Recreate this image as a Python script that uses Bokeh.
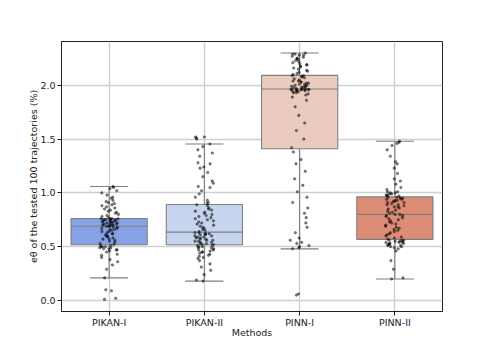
import numpy as np
from bokeh.plotting import figure
from bokeh.models import ColumnDataSource, Range1d, FixedTicker, CustomJSTickFormatter
from bokeh.transform import dodge, jitter
from bokeh.embed import file_html
from bokeh.resources import INLINE

methods = ["PIKAN-I", "PIKAN-II", "PINN-I", "PINN-II"]
box_colors = ["#86a2e6", "#c7d4ee", "#eacbbd", "#dd8c76"]

pikan_1 = [0.01, 0.02, 0.09, 0.10, 0.21, 0.29, 0.33, 0.36, 0.38, 0.40, 0.42, 0.43, 0.45,
           0.46, 0.47, 0.47, 0.48, 0.48, 0.49, 0.49, 0.50, 0.50, 0.50, 0.51, 0.51,
           0.52, 0.53, 0.54, 0.55, 0.56, 0.57, 0.57, 0.58, 0.59, 0.60, 0.60, 0.61, 0.62,
           0.62, 0.63, 0.64, 0.64, 0.65, 0.66, 0.66, 0.67, 0.67, 0.68, 0.68, 0.69,
           0.69, 0.69, 0.70, 0.70, 0.70, 0.71, 0.71, 0.71, 0.72, 0.72, 0.72, 0.73, 0.73,
           0.73, 0.74, 0.74, 0.74, 0.75, 0.75, 0.75, 0.75, 0.76, 0.76, 0.76, 0.76,
           0.77, 0.78, 0.79, 0.80, 0.81, 0.82, 0.83, 0.84, 0.85, 0.86, 0.87, 0.88, 0.89,
           0.90, 0.91, 0.92, 0.93, 0.95, 0.96, 0.98, 1.00, 1.02, 1.04, 1.05, 1.06]
pikan_2 = [0.18, 0.19, 0.24, 0.28, 0.31, 0.34, 0.37, 0.39, 0.40, 0.41, 0.42, 0.43, 0.44,
           0.45, 0.45, 0.46, 0.47, 0.47, 0.48, 0.49, 0.49, 0.50, 0.50, 0.51, 0.51,
           0.52, 0.52, 0.53, 0.53, 0.54, 0.54, 0.55, 0.55, 0.56, 0.56, 0.57, 0.57, 0.58,
           0.58, 0.59, 0.59, 0.60, 0.60, 0.61, 0.61, 0.62, 0.62, 0.62, 0.63, 0.63,
           0.64, 0.65, 0.66, 0.67, 0.68, 0.69, 0.70, 0.71, 0.72, 0.73, 0.74, 0.75, 0.76,
           0.77, 0.78, 0.79, 0.80, 0.81, 0.82, 0.83, 0.84, 0.85, 0.86, 0.88, 0.89,
           0.90, 0.91, 0.93, 0.96, 0.99, 1.02, 1.05, 1.06, 1.09, 1.11, 1.15, 1.19, 1.23,
           1.24, 1.27, 1.28, 1.34, 1.37, 1.40, 1.43, 1.455, 1.50, 1.51, 1.52, 1.52]
pinn_1 = [0.05, 0.06, 0.48, 0.49, 0.50, 0.51, 0.53, 0.54, 0.56, 0.58, 0.63, 0.68, 0.72,
          0.77, 0.81, 0.86, 0.91, 0.96, 1.01, 1.07, 1.13, 1.20, 1.27, 1.31, 1.38,
          1.42, 1.50, 1.58, 1.65, 1.72, 1.80, 1.86, 1.89, 1.91, 1.92, 1.93, 1.93, 1.94,
          1.94, 1.95, 1.95, 1.95, 1.96, 1.96, 1.96, 1.96, 1.96, 1.96, 1.96, 1.96,
          1.97, 1.97, 1.98, 1.98, 1.98, 1.99, 1.99, 1.99, 2.00, 2.00, 2.01, 2.01, 2.02,
          2.02, 2.03, 2.03, 2.04, 2.04, 2.05, 2.06, 2.07, 2.08, 2.08, 2.09, 2.09,
          2.10, 2.11, 2.12, 2.13, 2.14, 2.15, 2.16, 2.17, 2.18, 2.19, 2.19, 2.20, 2.21,
          2.22, 2.23, 2.24, 2.25, 2.25, 2.26, 2.27, 2.28, 2.28, 2.29, 2.29, 2.30]
pinn_2 = [0.20, 0.21, 0.29, 0.37, 0.46, 0.48, 0.49, 0.50, 0.50, 0.51, 0.51, 0.52, 0.52,
          0.53, 0.53, 0.53, 0.54, 0.54, 0.54, 0.55, 0.55, 0.55, 0.56, 0.56, 0.56,
          0.57, 0.58, 0.59, 0.60, 0.61, 0.62, 0.63, 0.64, 0.65, 0.66, 0.67, 0.68, 0.69,
          0.70, 0.71, 0.72, 0.73, 0.74, 0.75, 0.76, 0.77, 0.78, 0.79, 0.79, 0.80,
          0.80, 0.81, 0.82, 0.83, 0.84, 0.85, 0.86, 0.87, 0.87, 0.88, 0.89, 0.89, 0.90,
          0.91, 0.91, 0.92, 0.92, 0.93, 0.93, 0.94, 0.94, 0.95, 0.95, 0.96, 0.96,
          0.97, 0.97, 0.98, 0.98, 0.99, 0.99, 1.00, 1.00, 1.01, 1.01, 1.03, 1.05, 1.08,
          1.11, 1.13, 1.18, 1.23, 1.27, 1.29, 1.34, 1.40, 1.44, 1.46, 1.47, 1.48]
y_ticks = [0.0, 0.5, 1.0, 1.5, 2.0]

series = [pikan_1, pikan_2, pinn_1, pinn_2]

# box statistics (matplotlib-style)
q1s, meds, q3s, lows, highs = [], [], [], [], []
for vals in series:
    a = np.array(vals)
    q1, med, q3 = np.percentile(a, [25, 50, 75])
    iqr = q3 - q1
    hi = a[a <= q3 + 1.5 * iqr].max()
    lo = a[a >= q1 - 1.5 * iqr].min()
    q1s.append(q1); meds.append(med); q3s.append(q3); lows.append(lo); highs.append(hi)

box_src = ColumnDataSource(dict(m=methods, q1=q1s, med=meds, q3=q3s, lo=lows, hi=highs,
                                color=box_colors))
pts_m, pts_v = [], []
for m, vals in zip(methods, series):
    pts_m += [m] * len(vals)
    pts_v += list(vals)
pts_src = ColumnDataSource(dict(m=pts_m, v=pts_v))

FONT = "DejaVu Sans"
GRAY = "#7f7f7f"

p = figure(x_range=methods, y_range=Range1d(-0.1025, 2.407), width=491, height=350,
           output_backend="svg", toolbar_location=None,
           min_border_left=61, min_border_right=49, min_border_top=41, min_border_bottom=39)
p.background_fill_color = "white"
p.border_fill_color = "white"
p.outline_line_color = "#222222"
p.outline_line_width = 1

p.xgrid.grid_line_color = "#cfcfcf"
p.ygrid.grid_line_color = "#cfcfcf"
p.xgrid.grid_line_width = 1.4
p.ygrid.grid_line_width = 1.4

# whiskers
p.segment(x0="m", y0="q3", x1="m", y1="hi", source=box_src, line_color=GRAY, line_width=1.1)
p.segment(x0="m", y0="q1", x1="m", y1="lo", source=box_src, line_color=GRAY, line_width=1.1)
p.segment(x0=dodge("m", -0.2, range=p.x_range), y0="hi", x1=dodge("m", 0.2, range=p.x_range),
          y1="hi", source=box_src, line_color=GRAY, line_width=1.1)
p.segment(x0=dodge("m", -0.2, range=p.x_range), y0="lo", x1=dodge("m", 0.2, range=p.x_range),
          y1="lo", source=box_src, line_color=GRAY, line_width=1.1)
# boxes
p.vbar(x="m", top="q3", bottom="q1", width=0.8, source=box_src, fill_color="color",
       line_color=GRAY, line_width=1.1)
# medians
p.segment(x0=dodge("m", -0.4, range=p.x_range), y0="med", x1=dodge("m", 0.4, range=p.x_range),
          y1="med", source=box_src, line_color=GRAY, line_width=1.1)

# jittered points
p.scatter(x=jitter("m", width=0.2, range=p.x_range, distribution="uniform"), y="v",
          source=pts_src, size=2.6, fill_color="black", line_color="black",
          fill_alpha=0.5, line_alpha=0.5, line_width=0.5)

for ax in (p.xaxis, p.yaxis):
    ax.axis_line_color = "#222222"
    ax.major_tick_line_color = "#222222"
    ax.major_tick_out = 4
    ax.major_tick_in = 0
    ax.minor_tick_line_color = None
    ax.major_label_text_font = FONT
    ax.major_label_text_font_size = "9.5px"
    ax.major_label_text_color = "#222222"
    ax.axis_label_text_font = FONT
    ax.axis_label_text_font_size = "9.5px"
    ax.axis_label_text_font_style = "normal"
    ax.axis_label_text_color = "#222222"
    ax.major_label_standoff = 2

p.yaxis.ticker = FixedTicker(ticks=y_ticks)
p.yaxis.formatter = CustomJSTickFormatter(code="return tick.toFixed(1);")
p.xaxis.axis_label = "Methods"
p.yaxis.axis_label = "eθ of the tested 100 trajectories (%)"
p.xaxis.major_label_standoff = 1
p.xaxis.axis_label_standoff = -4
p.yaxis.axis_label_standoff = -2

open("out.html", "w").write(file_html(p, INLINE))
